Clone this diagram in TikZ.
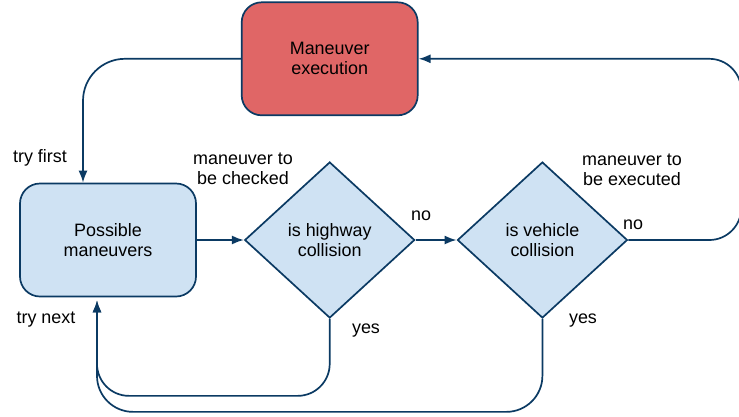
\documentclass[tikz,border=0pt]{standalone}
\usepackage{fontspec}
\setmainfont{Liberation Sans}
\usetikzlibrary{arrows.meta, positioning, shapes.geometric}
\definecolor{edgeblue}{HTML}{0B3A63}
\definecolor{boxblue}{HTML}{CFE2F3}
\definecolor{boxred}{HTML}{E06666}

\begin{document}
\begin{tikzpicture}[
    x=1bp, y=-1bp,
    font=\fontsize{18}{20}\selectfont,
    box/.style = {draw=edgeblue, line width=1.7bp, rounded corners=20bp,
                minimum width=176bp, minimum height=113bp, align=center},
    test/.style = {shape=diamond, draw=edgeblue, line width=1.7bp, fill=boxblue,
                minimum width=170bp, minimum height=156bp, inner sep=0pt,
                align=center},
    arr/.style = {draw=edgeblue, line width=1.7bp,
                -{Latex[length=12bp, width=9bp]}},
    lbl/.style = {align=center, inner sep=0pt}
                    ]
\useasboundingbox (0,0) rectangle (739,416);

\node (pm) [box, fill=boxblue] at (108,240) {Possible\\ maneuvers};
\node (hw) [test, right=47bp of pm] {is highway\\ collision};
\node (vc) [test, right=41bp of hw] {is vehicle\\ collision};
\node (ex) [box, fill=boxred, above=45bp of hw] {Maneuver\\ execution};

\draw[arr, rounded corners=42bp] (ex.west) -| ([xshift=-25bp]pm.north);
\draw[arr] (pm) -- (hw);
\draw[arr] (hw) -- (vc);
\draw[arr, rounded corners=32bp] (vc.east) -- ++(113bp,0) |- (ex.east);
\draw[arr, rounded corners=32bp, shorten >=3bp] (hw.south) -- ++(0,-77bp)
    -| ([xshift=-11bp]pm.south);
\draw[arr, rounded corners=36bp, shorten >=3bp] (vc.south) -- ++(0,-93bp)
    -| ([xshift=-11bp]pm.south);

\node (tfirst) [lbl] at (40,158) {try first};
\node (tnext) [lbl] at (46,320) {try next};
\node (chk) [lbl] at (243,169) {maneuver to\\ be checked};
\node (exd) [lbl] at (632,170) {maneuver to\\ be executed};
\node (no1) [lbl] at (421,216) {no};
\node (no2) [lbl] at (633,225) {no};
\node (yes1) [lbl] at (366,331) {yes};
\node (yes2) [lbl] at (583,321) {yes};

\end{tikzpicture}
\end{document}
